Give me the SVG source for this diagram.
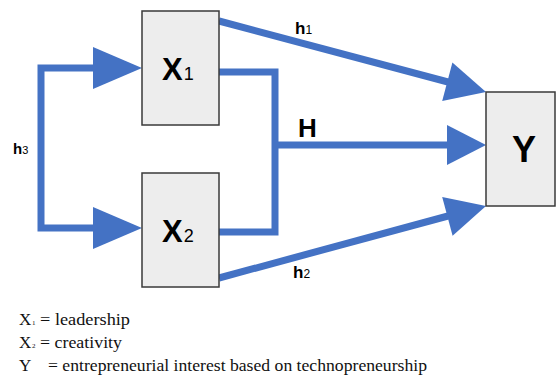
<svg xmlns="http://www.w3.org/2000/svg" width="556" height="375" viewBox="0 0 556 375">
<style>
.box{fill:#ededed;stroke:#3a3a3a;stroke-width:1.5}
.ln{fill:none;stroke:#4472c4;stroke-width:7}
.ah{fill:#4472c4}
.big{font-family:"Liberation Sans",Arial,sans-serif;font-weight:bold;fill:#000}
.sub{font-family:"Liberation Sans",Arial,sans-serif;font-weight:normal;fill:#000}
.lg{font-family:"Liberation Serif","Times New Roman",serif;font-size:17px;fill:#111}
</style>
<rect width="556" height="375" fill="#fff"/>
<g id="connectors">
<path class="ln" d="M93 68H41V228H93"/>
<polygon class="ah" points="142,68 93,47 93,89"/>
<polygon class="ah" points="142,228 93,207 93,249"/>
<path class="ln" d="M219 72H275V232H219"/>
<path class="ln" d="M275 145H448"/>
<polygon class="ah" points="486,145 447,125 447,165"/>
<path class="ln" d="M219 21L448 82"/>
<polygon class="ah" points="486,92 452.4,62.4 442.2,101"/>
<path class="ln" d="M219 278L448 216"/>
<polygon class="ah" points="486,206 452.6,235.7 442.2,197.1"/>
<text class="big" x="295" y="34" font-size="17">h<tspan class="sub" font-size="12">1</tspan></text>
<text class="big" x="293" y="278" font-size="17">h<tspan class="sub" font-size="12">2</tspan></text>
<text class="big" x="13" y="154" font-size="15">h<tspan class="sub" font-size="11">3</tspan></text>
<text class="big" x="298" y="137" font-size="26">H</text>
</g>
<g id="X1">
<rect class="box" x="142" y="11" width="77" height="114"/>
<text class="big" x="162" y="80" font-size="31">X<tspan class="sub" font-size="18" dx="1">1</tspan></text>
</g>
<g id="X2">
<rect class="box" x="142" y="173" width="77" height="114"/>
<text class="big" x="162" y="242" font-size="31">X<tspan class="sub" font-size="18" dx="1">2</tspan></text>
</g>
<g id="Y">
<rect class="box" x="486" y="92" width="69" height="114"/>
<text class="big" x="524" y="162" font-size="36" text-anchor="middle">Y</text>
</g>
<g id="legend">
<text class="lg" x="19" y="325">X</text><text class="lg" x="32" y="325" style="font-size:7px">1</text>
<text class="lg" x="40" y="325" textLength="90" lengthAdjust="spacingAndGlyphs">= leadership</text>
<text class="lg" x="19" y="348">X</text><text class="lg" x="32" y="348" style="font-size:7px">2</text>
<text class="lg" x="40" y="348" textLength="82" lengthAdjust="spacingAndGlyphs">= creativity</text>
<text class="lg" x="19" y="371">Y</text>
<text class="lg" x="48" y="371" textLength="379" lengthAdjust="spacingAndGlyphs">= entrepreneurial interest based on technopreneurship</text>
</g>
</svg>
